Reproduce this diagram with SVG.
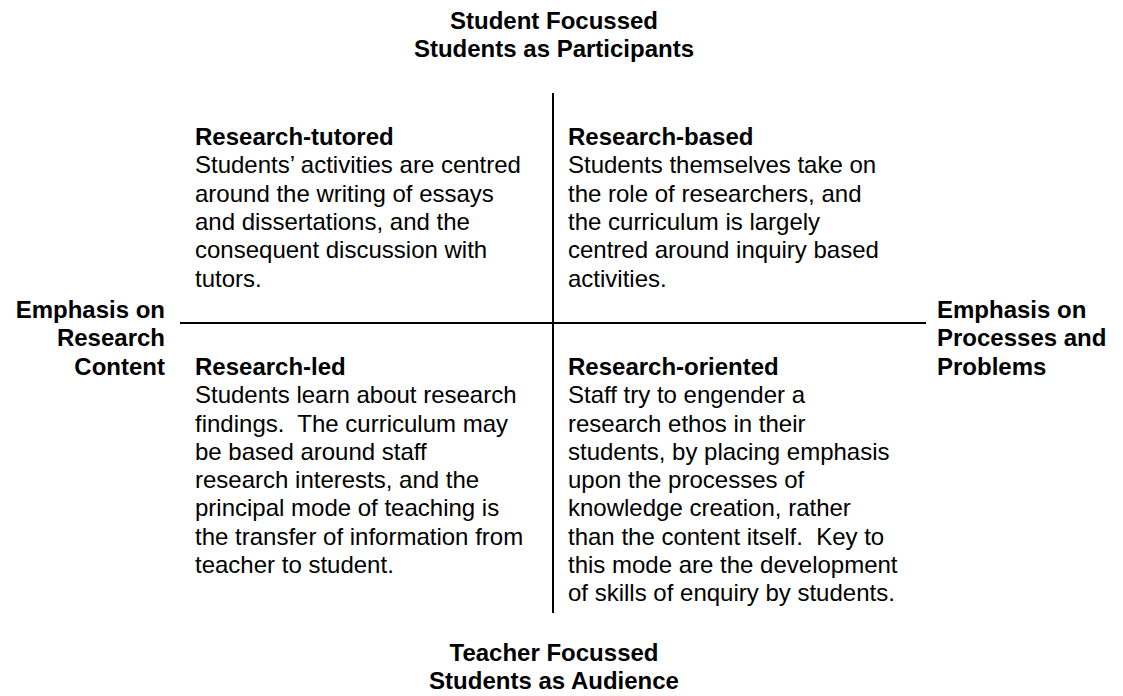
<svg xmlns="http://www.w3.org/2000/svg" width="1123" height="696" viewBox="0 0 1123 696">
<style>
text{font-family:"Liberation Sans",Arial,sans-serif;font-size:24px;fill:#000}
.b{font-weight:bold}
.c{text-anchor:middle}
.r{text-anchor:end}
.ax{stroke:#000;stroke-width:2;fill:none}
</style>
<rect width="1123" height="696" fill="#fff"/>
<g id="connectors">
<line class="ax" x1="553" y1="93" x2="553" y2="613"/>
<line class="ax" x1="180" y1="323" x2="926" y2="323"/>
</g>
<g id="top-label">
<text class="b c" x="554" y="29">Student Focussed</text>
<text class="b c" x="554" y="57">Students as Participants</text>
</g>
<g id="bottom-label">
<text class="b c" x="554" y="661">Teacher Focussed</text>
<text class="b c" x="554" y="689">Students as Audience</text>
</g>
<g id="left-label">
<text class="b r" x="165" y="318">Emphasis on</text>
<text class="b r" x="165" y="346">Research</text>
<text class="b r" x="165" y="375">Content</text>
</g>
<g id="right-label">
<text class="b" x="937" y="318">Emphasis on</text>
<text class="b" x="937" y="346">Processes and</text>
<text class="b" x="937" y="375">Problems</text>
</g>
<g id="research-tutored">
<text class="b" x="195" y="145">Research-tutored</text>
<text x="195" y="173">Students’ activities are centred</text>
<text x="195" y="202">around the writing of essays</text>
<text x="195" y="230">and dissertations, and the</text>
<text x="195" y="258">consequent discussion with</text>
<text x="195" y="287">tutors.</text>
</g>
<g id="research-based">
<text class="b" x="568" y="145">Research-based</text>
<text x="568" y="173">Students themselves take on</text>
<text x="568" y="202">the role of researchers, and</text>
<text x="568" y="230">the curriculum is largely</text>
<text x="568" y="258">centred around inquiry based</text>
<text x="568" y="287">activities.</text>
</g>
<g id="research-led">
<text class="b" x="195" y="375">Research-led</text>
<text x="195" y="403">Students learn about research</text>
<text x="195" y="432" xml:space="preserve">findings.  The curriculum may</text>
<text x="195" y="460">be based around staff</text>
<text x="195" y="488">research interests, and the</text>
<text x="195" y="516">principal mode of teaching is</text>
<text x="195" y="545">the transfer of information from</text>
<text x="195" y="573">teacher to student.</text>
</g>
<g id="research-oriented">
<text class="b" x="568" y="375">Research-oriented</text>
<text x="568" y="403">Staff try to engender a</text>
<text x="568" y="432">research ethos in their</text>
<text x="568" y="460">students, by placing emphasis</text>
<text x="568" y="488">upon the processes of</text>
<text x="568" y="516">knowledge creation, rather</text>
<text x="568" y="545" xml:space="preserve">than the content itself.  Key to</text>
<text x="568" y="573">this mode are the development</text>
<text x="568" y="601">of skills of enquiry by students.</text>
</g>
</svg>
